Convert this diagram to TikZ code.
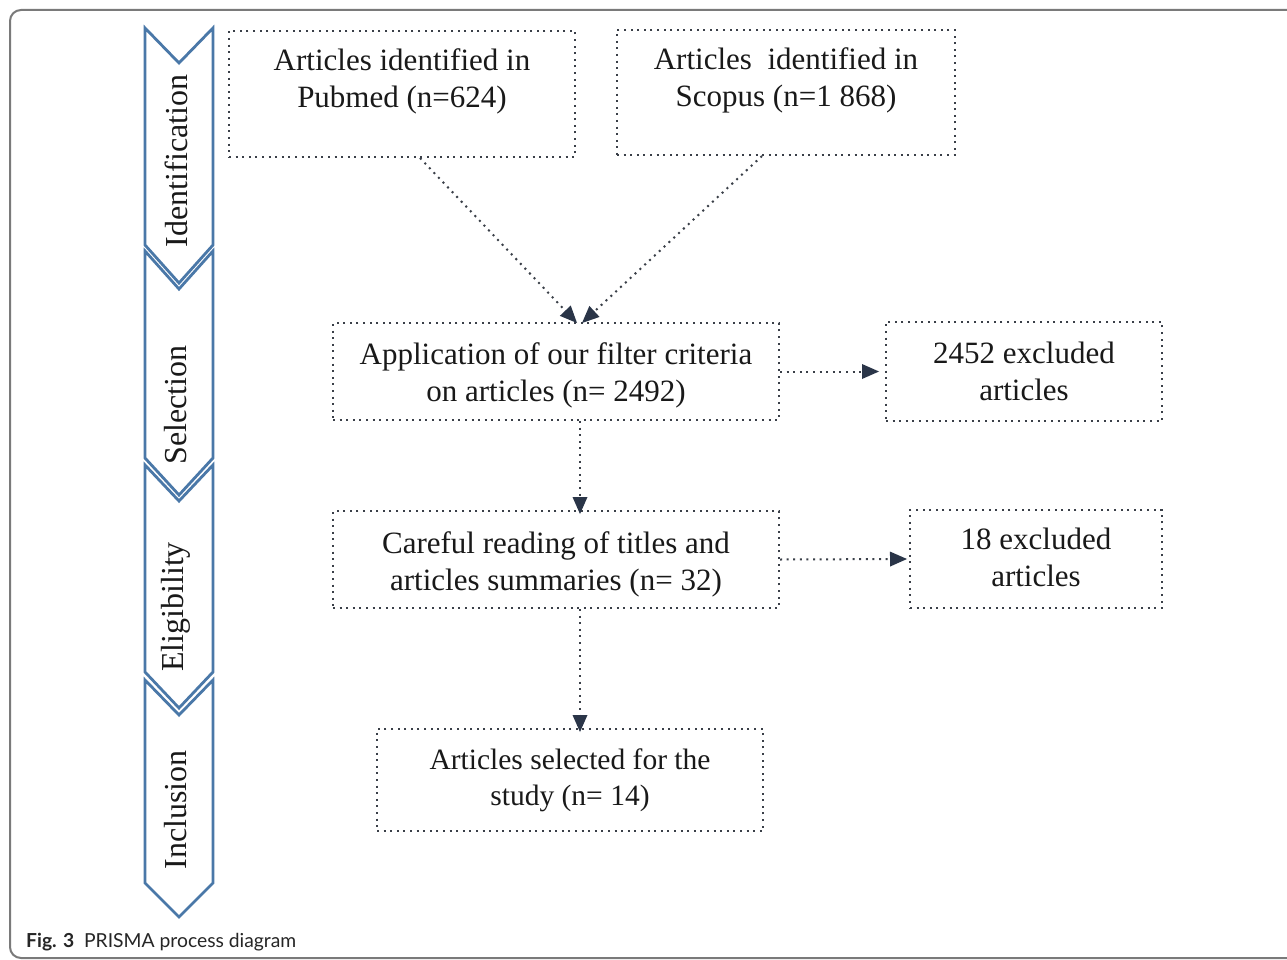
\documentclass[tikz,border=0pt]{standalone}
\usepackage{fontspec}
\setmainfont{Liberation Serif}
\newfontfamily\capfont{Lato}
\usetikzlibrary{arrows.meta,calc}
\definecolor{chev}{HTML}{4A78A8}
\definecolor{dotc}{HTML}{3A3F48}
\definecolor{tipc}{HTML}{2A3548}
\definecolor{frame}{HTML}{7A7A7A}
\tikzset{
  box/.style={draw=dotc, line width=2pt, dash pattern=on 2pt off 4.6pt, inner sep=0pt},
  boxtext/.style={align=center, font=\fontsize{31}{37}\selectfont, text=black!90, inner sep=0pt},
  flow/.style={draw=dotc, line width=2pt, dash pattern=on 2pt off 4.6pt,
    -{Triangle[length=17pt,width=15pt,fill=tipc,line width=0pt]}, shorten >=0pt},
  chevshape/.style={draw=chev, line width=2.8pt, line join=miter, fill=white},
  stage/.style={rotate=90, font=\fontsize{32}{38}\selectfont, text=black!90},
}
\begin{document}
\begin{tikzpicture}[x=1pt,y=-1pt]
\useasboundingbox (0,0) rectangle (1287,960);
\fill[white] (0,0) rectangle (1287,960);
\draw[frame, line width=2pt, rounded corners=11pt] (1300,10) -- (10,10) -- (10,958) -- (1300,958);
% stage chevrons
\draw[chevshape] (145,680) -- (179,715) -- (213,680) -- (213,883) -- (179,917) -- (145,883) -- cycle;
\draw[chevshape] (145,465) -- (179,501) -- (213,465) -- (213,672) -- (179,708) -- (145,672) -- cycle;
\draw[chevshape] (145,251) -- (179,289) -- (213,251) -- (213,458) -- (179,495) -- (145,458) -- cycle;
\draw[chevshape] (145,28) -- (179,63) -- (213,28) -- (213,245) -- (179,283) -- (145,245) -- cycle;
\node[stage] (sid) at (176,161) {Identification};
\node[stage] (ssel) at (176,405) {Selection};
\node[stage] (selig) at (176,607) {Eligibility};
\node[stage] (sinc) at (176,810) {Inclusion};
% boxes
\node[box, minimum width=346pt, minimum height=126pt] (pubmed) at (402,94) {};
\node[boxtext] (pubmedt) at (402,81) {Articles identified in\\Pubmed (n=624)};
\node[box, minimum width=338pt, minimum height=125pt] (scopus) at (786,92.5) {};
\node[boxtext] (scopust) at (786,80.5) {Articles\ \ identified in\\Scopus (n=1 868)};
\node[box, minimum width=446pt, minimum height=97pt] (filter) at (556,371.5) {};
\node[boxtext] (filtert) at (556,375.5) {Application of our filter criteria\\on articles (n= 2492)};
\node[box, minimum width=276pt, minimum height=99pt] (exc1) at (1024,371.5) {};
\node[boxtext] (exc1t) at (1024,371) {2452 excluded\\articles};
\node[box, minimum width=446pt, minimum height=97pt] (careful) at (556,559.5) {};
\node[boxtext] (carefult) at (556,564) {Careful reading of titles and\\articles summaries (n= 32)};
\node[box, minimum width=252pt, minimum height=98pt] (exc2) at (1036,559) {};
\node[boxtext] (exc2t) at (1036,557.5) {18 excluded\\articles};
\node[box, minimum width=386pt, minimum height=102pt] (sel) at (570,780) {};
\node[boxtext, font=\fontsize{29.5}{36}\selectfont] (selt) at (570,780) {Articles selected for the\\study (n= 14)};
% connectors
\draw[flow] ([xshift=18pt]pubmed.south) -- ([xshift=21pt,yshift=-1pt]filter.north);
\draw[flow] ([xshift=-24pt]scopus.south) -- ([xshift=26pt,yshift=-1pt]filter.north);
\draw[flow] (filter.east) -- ([xshift=-6pt]exc1.west);
\draw[flow] ([xshift=24pt]filter.south) -- ([xshift=24pt,yshift=-4pt]careful.north);
\draw[flow] (careful.east) -- ([xshift=-2pt]exc2.west);
\draw[flow] ([xshift=24pt]careful.south) -- ([xshift=10pt,yshift=-4pt]sel.north);
% caption
\node[anchor=base west, inner sep=0pt, font=\capfont\fontsize{19.3}{22}\selectfont, text=black!85] (cap) at (26,947) {\textbf{Fig. 3}\ \ PRISMA process diagram};
\end{tikzpicture}
\end{document}
